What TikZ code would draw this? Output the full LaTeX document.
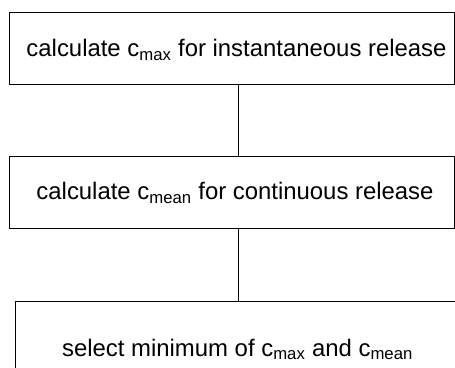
\documentclass[tikz,border=0pt]{standalone}
\usepackage{fontspec}
\setmainfont{Liberation Sans}
\begin{document}
\begin{tikzpicture}[x=1pt,y=1pt,
  stepbox/.style={draw=black, line width=0.9pt, rectangle, inner sep=0pt,
    font=\fontsize{23.9}{26}\selectfont},
  conn/.style={draw=black, line width=0.9pt}]
\useasboundingbox (0,0) rectangle (455,367);
\clip (0,0) rectangle (455,367);
% y_tikz = 367 - y_px
\node[stepbox, minimum width=445pt, minimum height=72pt,
  text height=23pt, text depth=5pt] (b1) at (231.5,319)
  {\hspace*{10pt}calculate c\textsubscript{max} for instantaneous release};
\node[stepbox, minimum width=445pt, minimum height=72pt,
  text height=19.6pt, text depth=5pt] (b2) at (231.5,175)
  {\hspace*{7pt}calculate c\textsubscript{mean} for continuous release};
\node[stepbox, minimum width=460pt, minimum height=108pt,
  text height=7pt, text depth=5pt] (b3) at (245,12)
  {\hspace*{-15pt}select minimum of c\textsubscript{max} and c\textsubscript{mean}};
\draw[conn] (b1.south -| 238,0) -- (b2.north -| 238,0);
\draw[conn] (b2.south -| 238,0) -- (b3.north -| 238,0);
\end{tikzpicture}
\end{document}
